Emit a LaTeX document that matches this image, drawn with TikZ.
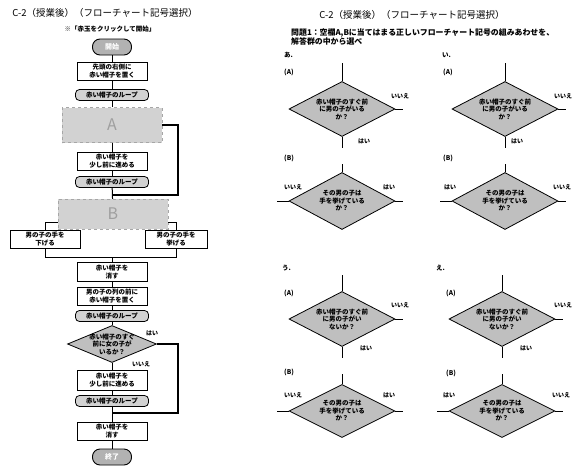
\documentclass[tikz,border=0pt]{standalone}
\usepackage{fontspec}
\setmainfont{Noto Sans CJK JP}
\usetikzlibrary{shapes.geometric,calc}
\tikzset{
 fb/.style={draw, line width=0.9pt, fill=white, minimum width=70pt, minimum height=18pt, inner sep=1pt, align=center, font=\fontsize{6.5}{7.5}\selectfont\bfseries},
 term/.style={draw, line width=0.9pt, fill=gray!60, rounded corners=7.5pt, minimum width=39pt, minimum height=16pt, inner sep=0pt, font=\fontsize{7}{8}\selectfont\bfseries, text=white},
 loopbar/.style={draw, line width=0.8pt, fill=gray!35, rounded corners=4pt, minimum width=73pt, minimum height=11pt, inner sep=0pt, font=\fontsize{6.5}{7}\selectfont\bfseries},
 blank/.style={draw=gray!70, dashed, fill=gray!35, inner sep=0pt, font=\fontsize{16}{16}\selectfont, text=gray!75},
 dia/.style={diamond, draw, line width=0.8pt, fill=gray!50, inner sep=0pt},
 dtext/.style={align=center, inner sep=0pt, font=\fontsize{6.5}{7.5}\selectfont\bfseries},
 lbl/.style={font=\fontsize{6}{7}\selectfont\bfseries, inner sep=0pt},
 plbl/.style={font=\fontsize{6.5}{7}\selectfont\bfseries, inner sep=0pt, anchor=west},
 conn/.style={line width=1pt},
 back/.style={line width=1.3pt},
 title/.style={font=\fontsize{9.5}{10}\selectfont, inner sep=0pt},
}
\begin{document}
\begin{tikzpicture}[x=1pt,y=-1pt]
\useasboundingbox[fill=white] (0,0) rectangle (581,466);

% ---------- left flowchart ----------
\node[title] (t1) at (105,13) {C-2（授業後）（フローチャート記号選択）};
\node[font=\fontsize{6.5}{7}\selectfont\bfseries, inner sep=0pt] (sub) at (110,29) {※「赤玉をクリックして開始」};

\node[term] (start) at (112,47) {開始};
\node[fb] (b1) at (112,71) {先頭の右側に\\赤い帽子を置く};
\node[loopbar] (l1) at (112,95) {赤い帽子のループ};
\node[blank, minimum width=100pt, minimum height=35pt] (A) at (112,125) {A};
\node[fb] (b2) at (112,161) {赤い帽子を\\少し前に進める};
\node[loopbar] (l2) at (112,182) {赤い帽子のループ};
\node[blank, minimum width=110pt, minimum height=30pt] (B) at (113,214) {B};
\node[fb] (lb) at (45,239) {男の子の手を\\下げる};
\node[fb, minimum width=62pt] (rb) at (176,239) {男の子の手を\\挙げる};
\node[fb, minimum height=19pt] (b3) at (112,272) {赤い帽子を\\消す};
\node[fb] (b4) at (112,296) {男の子の列の前に\\赤い帽子を置く};
\node[loopbar] (l3) at (112,316) {赤い帽子のループ};
\node[dia, minimum width=89pt, minimum height=37pt] (d) at (112,344) {};
\node[dtext] (dt) at (112,344) {赤い帽子のすぐ\\前に女の子が\\いるか？};
\node[fb, minimum height=20pt] (b5) at (112,380) {赤い帽子を\\少し前に進める};
\node[loopbar] (l4) at (112,401) {赤い帽子のループ};
\node[fb] (b6) at (112,431) {赤い帽子を\\消す};
\node[term] (end) at (112,457) {終了};
\node[lbl] (yes1) at (152,333) {はい};
\node[lbl] (no1) at (141,364) {いいえ};

\coordinate (rx) at (178,0);
\coordinate (j1) at (112,195);
\coordinate (j2) at (112,413);
\coordinate (m) at (112,257);
\coordinate (bl) at ($(B.south west)+(0,-7)$);
\coordinate (br) at ($(B.south east)+(0,-7)$);

\draw[conn] (start) -- (b1);
\draw[conn] (b1) -- (l1);
\draw[conn] (l1) -- (A);
\draw[conn] (A) -- (b2);
\draw[conn] (b2) -- (l2);
\draw[conn] (l2) -- (B);
\draw[back] (A.east) -- (A.east -| rx) -- (rx |- j1) -- (j1);
\draw[conn] (bl) -| (lb.north);
\draw[conn] (br) -| (rb.north);
\draw[conn] (lb.south) |- (rb.south |- m) -- (rb.south);
\draw[conn] (m) -- (b3);
\draw[conn] (b3) -- (b4);
\draw[conn] (b4) -- (l3);
\draw[conn] (l3) -- (d);
\draw[conn] (d) -- (b5);
\draw[conn] (b5) -- (l4);
\draw[conn] (l4) -- (b6);
\draw[conn] (b6) -- (end);
\draw[back] (d.east) -- (d.east -| rx) -- (rx |- j2) -- (j2);

% ---------- right panel ----------
\node[title] (t2) at (412,15) {C-2（授業後）（フローチャート記号選択）};
\node[anchor=west, align=left, inner sep=0pt, font=\fontsize{7.9}{8.5}\selectfont\bfseries] (q) at (291,37) {問題1：空欄A,Bに当てはまる正しいフローチャート記号の組みあわせを、\\解答群の中から選べ};

% panel あ
\node[plbl] (pa) at (284,55) {あ.};
\node[plbl] (paA) at (284,72) {(A)};
\node[dia, minimum width=106pt, minimum height=55pt] (aA) at (342,109) {};
\node[dtext] (aAt) at (342,109) {赤い帽子のすぐ前\\に男の子がいる\\か？};
\draw[conn] (aA.north) -- ++(0,-18);
\draw[conn] (aA.south) -- ++(0,11);
\draw[conn] (aA.east) -- ++(8,0);
\node[lbl] (aAn) at (400,96) {いいえ};
\node[lbl] (aAy) at (364,141) {はい};
\node[plbl] (paB) at (284,158) {(B)};
\node[dia, minimum width=106pt, minimum height=57pt] (aB) at (342,201) {};
\node[dtext] (aBt) at (342,201) {その男の子は\\手を挙げている\\か？};
\draw[conn] (aB.north) -- ++(0,-8);
\draw[conn] (aB.west) -- ++(-12,0);
\draw[conn] (aB.east) -- ++(8,0);
\node[lbl] (aBl) at (293,187) {いいえ};
\node[lbl] (aBr) at (389,187) {はい};

% panel い
\node[plbl] (pi) at (442,55) {い.};
\node[plbl] (piA) at (443,72) {(A)};
\node[dia, minimum width=106pt, minimum height=55pt] (iA) at (505,109) {};
\node[dtext] (iAt) at (505,109) {赤い帽子のすぐ前\\に男の子がいる\\か？};
\draw[conn] (iA.north) -- ++(0,-18);
\draw[conn] (iA.south) -- ++(0,11);
\draw[conn] (iA.east) -- ++(8,0);
\node[lbl] (iAn) at (563,96) {いいえ};
\node[lbl] (iAy) at (517,141) {はい};
\node[plbl] (piB) at (443,158) {(B)};
\node[dia, minimum width=106pt, minimum height=57pt] (iB) at (505,201) {};
\node[dtext] (iBt) at (505,201) {その男の子は\\手を挙げている\\か？};
\draw[conn] (iB.north) -- ++(0,-8);
\draw[conn] (iB.west) -- ++(-12,0);
\draw[conn] (iB.east) -- ++(8,0);
\node[lbl] (iBl) at (450,187) {はい};
\node[lbl] (iBr) at (562,187) {いいえ};

% panel う
\node[plbl] (pu) at (282,268) {う.};
\node[plbl] (puA) at (284,293) {(A)};
\node[dia, minimum width=106pt, minimum height=55pt] (uA) at (342,319) {};
\node[dtext] (uAt) at (342,319) {赤い帽子のすぐ前\\に男の子がい\\ないか？};
\draw[conn] (uA.north) -- ++(0,-16);
\draw[conn] (uA.south) -- ++(0,11);
\draw[conn] (uA.east) -- ++(8,0);
\node[lbl] (uAn) at (400,305) {いいえ};
\node[lbl] (uAy) at (366,348) {はい};
\node[plbl] (puB) at (284,372) {(B)};
\node[dia, minimum width=106pt, minimum height=53pt] (uB) at (342,411) {};
\node[dtext] (uBt) at (342,411) {その男の子は\\手を挙げている\\か？};
\draw[conn] (uB.north) -- ++(0,-10);
\draw[conn] (uB.west) -- ++(-12,0);
\draw[conn] (uB.east) -- ++(8,0);
\node[lbl] (uBl) at (293,395) {いいえ};
\node[lbl] (uBr) at (389,395) {はい};

% panel え
\node[plbl] (pe) at (436,268) {え.};
\node[plbl] (peA) at (446,293) {(A)};
\node[dia, minimum width=106pt, minimum height=55pt] (eA) at (502,319) {};
\node[dtext] (eAt) at (502,319) {赤い帽子のすぐ前\\に男の子がい\\ないか？};
\draw[conn] (eA.north) -- ++(0,-16);
\draw[conn] (eA.south) -- ++(0,11);
\draw[conn] (eA.east) -- ++(8,0);
\node[lbl] (eAn) at (563,305) {いいえ};
\node[lbl] (eAy) at (526,348) {はい};
\node[plbl] (peB) at (446,373) {(B)};
\node[dia, minimum width=106pt, minimum height=53pt] (eB) at (502,411) {};
\node[dtext] (eBt) at (502,411) {その男の子は\\手を挙げている\\か？};
\draw[conn] (eB.north) -- ++(0,-10);
\draw[conn] (eB.west) -- ++(-12,0);
\draw[conn] (eB.east) -- ++(8,0);
\node[lbl] (eBl) at (449,395) {はい};
\node[lbl] (eBr) at (561,395) {いいえ};
\end{tikzpicture}
\end{document}
